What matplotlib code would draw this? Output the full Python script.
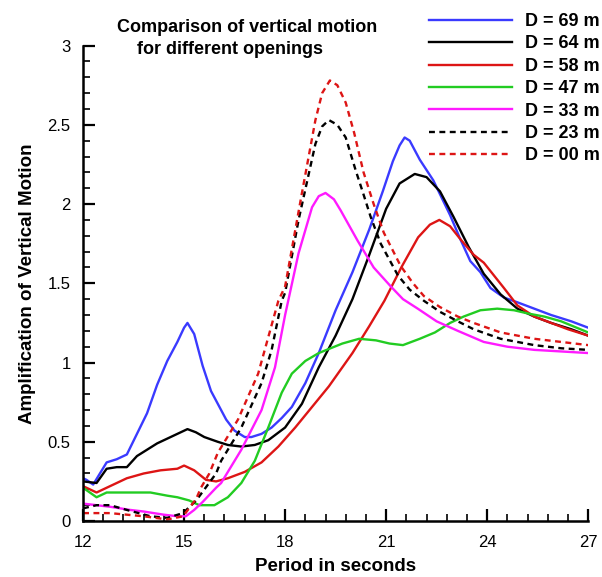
import numpy as np
import matplotlib
matplotlib.use("Agg")
import matplotlib.pyplot as plt
from matplotlib.ticker import MultipleLocator

plt.rcParams['font.family'] = ['Liberation Sans', 'DejaVu Sans']

# --- values ---
t69 = [12.0, 12.1, 12.3, 12.5, 12.7, 13.0, 13.3, 13.6, 13.9, 14.2, 14.5, 14.8, 15.0, 15.1,
       15.3, 15.55, 15.8, 16.0, 16.25, 16.5, 16.8, 17.0, 17.3, 17.6, 17.9, 18.2, 18.6, 19.0,
       19.5, 20.0, 20.5, 20.9, 21.2, 21.4, 21.55, 21.7, 22.0, 22.4, 22.9, 23.2, 23.5, 23.8,
       24.1, 24.5, 24.9, 25.4, 25.9, 26.5, 27.0]
a69 = [0.27, 0.26, 0.23, 0.30, 0.37, 0.39, 0.42, 0.55, 0.68, 0.86, 1.01, 1.13, 1.22, 1.25,
       1.18, 0.98, 0.82, 0.74, 0.64, 0.57, 0.53, 0.53, 0.55, 0.59, 0.65, 0.72, 0.87, 1.06,
       1.33, 1.57, 1.84, 2.08, 2.27, 2.37, 2.42, 2.40, 2.28, 2.15, 1.93, 1.78, 1.64, 1.57,
       1.47, 1.41, 1.38, 1.34, 1.30, 1.26, 1.22]

t64 = [12.0, 12.4, 12.7, 13.0, 13.3, 13.6, 13.9, 14.2, 14.5, 14.8, 15.1, 15.35, 15.6, 16.0,
       16.3, 16.7, 17.1, 17.5, 18.0, 18.5, 19.0, 19.5, 20.0, 20.5, 21.0, 21.4, 21.85, 22.2,
       22.6, 23.0, 23.45, 23.9, 24.4, 24.9, 25.4, 25.9, 26.5, 27.0]
a64 = [0.25, 0.24, 0.33, 0.34, 0.34, 0.41, 0.45, 0.49, 0.52, 0.55, 0.58, 0.56, 0.53, 0.50,
       0.48, 0.47, 0.48, 0.51, 0.59, 0.74, 0.97, 1.17, 1.40, 1.68, 1.97, 2.13, 2.19, 2.17,
       2.08, 1.92, 1.73, 1.56, 1.43, 1.34, 1.29, 1.25, 1.21, 1.17]

t58 = [12.0, 12.4, 12.8, 13.3, 13.8, 14.3, 14.8, 15.0, 15.3, 15.65, 15.95, 16.3, 16.8, 17.3,
       17.8, 18.3, 18.8, 19.3, 19.7, 20.0, 20.5, 20.95, 21.45, 21.95, 22.3, 22.58, 22.9, 23.2,
       23.6, 23.9, 24.2, 24.5, 24.9, 25.4, 25.9, 26.4, 27.0]
a58 = [0.22, 0.18, 0.22, 0.27, 0.30, 0.32, 0.33, 0.35, 0.32, 0.26, 0.25, 0.27, 0.31, 0.37,
       0.47, 0.59, 0.72, 0.85, 0.97, 1.06, 1.23, 1.39, 1.60, 1.79, 1.87, 1.90, 1.86, 1.78,
       1.68, 1.63, 1.55, 1.47, 1.36, 1.29, 1.25, 1.21, 1.17]

t47 = [12.0, 12.4, 12.7, 13.3, 14.0, 14.5, 14.8, 15.15, 15.45, 15.9, 16.3, 16.7, 17.1, 17.5,
       17.9, 18.2, 18.6, 19.0, 19.7, 20.2, 20.7, 21.1, 21.5, 22.0, 22.45, 22.9, 23.3, 23.8,
       24.3, 24.8, 25.2, 25.7, 26.2, 27.0]
a47 = [0.21, 0.15, 0.18, 0.18, 0.18, 0.16, 0.15, 0.13, 0.10, 0.10, 0.15, 0.24, 0.38, 0.59,
       0.81, 0.93, 1.01, 1.06, 1.12, 1.15, 1.14, 1.12, 1.11, 1.15, 1.19, 1.25, 1.29, 1.33,
       1.34, 1.33, 1.31, 1.29, 1.26, 1.19]

t33 = [12.0, 12.8, 13.4, 13.8, 14.4, 14.8, 15.05, 15.3, 15.55, 15.95, 16.1, 16.7, 17.3, 17.7,
       18.0, 18.4, 18.8, 19.0, 19.2, 19.45, 19.65, 20.15, 20.63, 21.14, 21.5, 21.94, 22.5,
       23.13, 23.9, 24.6, 25.4, 27.0]
a33 = [0.11, 0.09, 0.07, 0.06, 0.04, 0.03, 0.03, 0.07, 0.12, 0.21, 0.24, 0.45, 0.70, 0.97,
       1.30, 1.69, 1.98, 2.05, 2.07, 2.03, 1.96, 1.77, 1.60, 1.48, 1.40, 1.34, 1.26,
       1.20, 1.13, 1.10, 1.08, 1.06]

t23 = [12.0, 12.4, 12.8, 13.3, 14.0, 14.5, 14.97, 15.36, 15.5, 15.95, 16.1, 16.7, 17.3, 17.6,
       17.9, 18.0, 18.4, 18.9, 19.1, 19.3, 19.55, 19.8, 20.1, 20.3, 20.54, 20.84, 21.35, 21.7,
       22.12, 22.6, 23.13, 23.6, 24.4, 25.4, 26.2, 27.0]
a23 = [0.08, 0.10, 0.10, 0.07, 0.03, 0.02, 0.05, 0.13, 0.17, 0.30, 0.38, 0.59, 0.87, 1.08,
       1.39, 1.44, 1.90, 2.38, 2.49, 2.53, 2.50, 2.42, 2.21, 2.08, 1.92, 1.75, 1.55, 1.46,
       1.39, 1.32, 1.26, 1.21, 1.15, 1.11, 1.09, 1.08]

t00 = [12.0, 12.8, 13.8, 14.5, 14.97, 15.36, 15.5, 15.75, 16.0, 16.6, 17.2, 17.8, 18.0, 18.5,
       18.9, 19.1, 19.33, 19.55, 19.8, 20.05, 20.33, 20.63, 20.93, 21.43, 21.8, 22.12, 22.6,
       23.13, 23.6, 24.4, 25.4, 26.2, 27.0]
a00 = [0.05, 0.05, 0.03, 0.01, 0.03, 0.14, 0.21, 0.30, 0.43, 0.64, 0.93, 1.39, 1.48, 2.07,
       2.53, 2.70, 2.78, 2.75, 2.64, 2.45, 2.20, 2.00, 1.82, 1.61, 1.50, 1.42, 1.35,
       1.29, 1.25, 1.19, 1.15, 1.13, 1.11]

labels = ["D = 69 m", "D = 64 m", "D = 58 m", "D = 47 m", "D = 33 m", "D = 23 m", "D = 00 m"]

fig = plt.figure(figsize=(6.02, 5.77), dpi=100)
ax = fig.add_axes([0.138, 0.097, 0.839, 0.824])

lw = 1.7
dash = (2.5, 1.9)
ax.plot(t69, a69, color="#3a3aff", lw=lw, label=labels[0])
ax.plot(t64, a64, color="black", lw=lw, label=labels[1])
ax.plot(t58, a58, color="#dd1515", lw=lw, label=labels[2])
ax.plot(t47, a47, color="#22cc22", lw=lw, label=labels[3])
ax.plot(t33, a33, color="#ff1aff", lw=lw, label=labels[4])
ax.plot(t23, a23, color="black", lw=lw, dashes=dash, label=labels[5])
ax.plot(t00, a00, color="#dd1515", lw=lw, dashes=dash, label=labels[6])

ax.set_xlim(12, 27)
ax.set_ylim(0, 3)
ax.xaxis.set_major_locator(MultipleLocator(3))
ax.xaxis.set_minor_locator(MultipleLocator(0.6))
ax.yaxis.set_major_locator(MultipleLocator(0.5))
ax.yaxis.set_minor_locator(MultipleLocator(0.1))
ax.set_yticks([0, 0.5, 1, 1.5, 2, 2.5, 3])
ax.set_yticklabels(["0", "0.5", "1", "1.5", "2", "2.5", "3"])

for s in ["top", "right"]:
    ax.spines[s].set_visible(False)
for s in ["left", "bottom"]:
    ax.spines[s].set_linewidth(1.8)
ax.tick_params(which="major", direction="in", length=8.5, width=1.6, labelsize=12,
               pad=9, colors="black")
ax.tick_params(which="minor", direction="in", length=5, width=1.2)
ax.tick_params(axis="x", which="major", pad=10)

ax.set_xlabel("Period in seconds", fontsize=13.5, fontweight="bold", labelpad=6)
ax.set_ylabel("Amplification of Vertical Motion", fontsize=13.5, fontweight="bold", labelpad=8)

fig.text(117 / 602, 1 - 27 / 577, "Comparison of vertical motion", fontsize=13,
         fontweight="bold", ha="left", va="center")
fig.text(137 / 602, 1 - 49 / 577, "for different openings", fontsize=13,
         fontweight="bold", ha="left", va="center")

leg = fig.legend(loc="upper left", bbox_to_anchor=(429 / 602, 1 - 13 / 577), frameon=False,
                 fontsize=13, handlelength=4.6, handletextpad=0.7, labelspacing=0.3,
                 borderpad=0, borderaxespad=0)
for txt in leg.get_texts():
    txt.set_fontweight("bold")

fig.savefig("out.png", dpi=100)
